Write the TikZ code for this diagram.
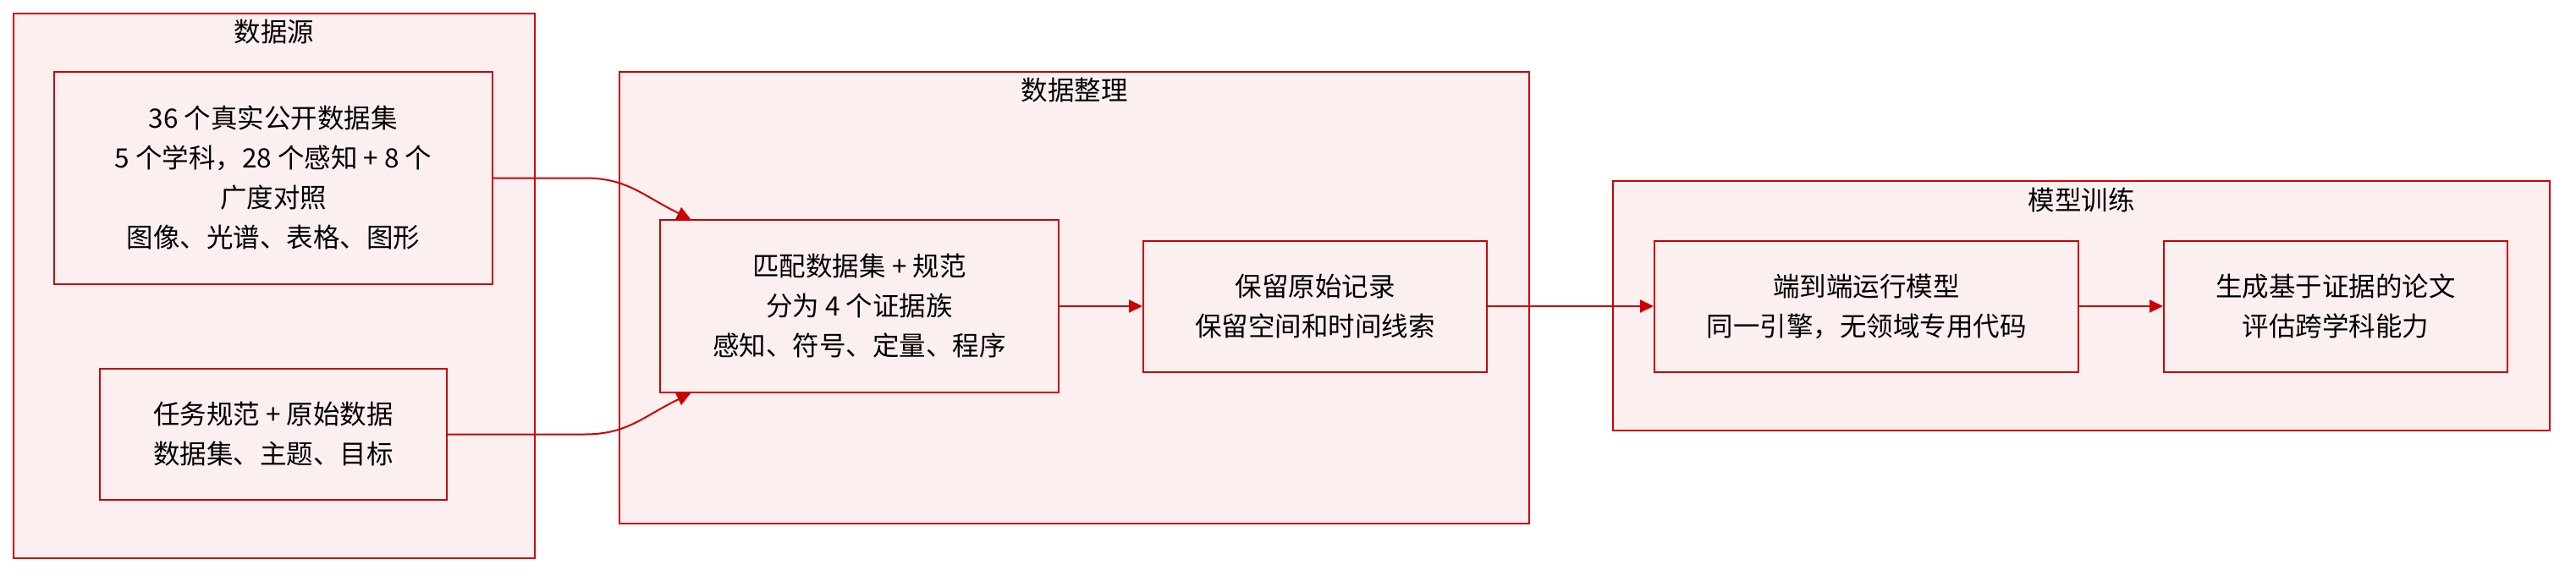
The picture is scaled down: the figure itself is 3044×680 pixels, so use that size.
\documentclass[tikz,border=0pt]{standalone}
\usepackage{fontspec}
\setmainfont{Noto Sans CJK SC}
\usepackage{tikz}
\usetikzlibrary{arrows.meta}
\definecolor{edgered}{RGB}{204,0,0}
\definecolor{boxpink}{RGB}{252,239,240}
\newcommand{\boxfont}[0]{\fontsize{15.75}{23.5}\selectfont}
\newcommand{\srcul}[0]{(15.5, 15.5)}
\newcommand{\srclr}[0]{(632, 660)}
\newcommand{\prepul}[0]{(732, 85)}
\newcommand{\preplr}[0]{(1807, 619)}
\newcommand{\trainul}[0]{(1906, 214)}
\newcommand{\trainlr}[0]{(3013, 509)}
\tikzset{
  cluster/.style={draw=edgered, fill=boxpink, line width=1pt},
  grouptitle/.style={font=\boxfont, inner sep=0pt},
  proc/.style={draw=edgered, fill=boxpink, line width=1pt, align=center,
    inner sep=0pt, font=\boxfont, minimum height=77.5pt},
  flow/.style={draw=edgered, line width=1pt, -{Triangle[length=8pt, width=7.5pt]}}
}

\begin{document}
\begin{tikzpicture}[x=0.5pt, y=-0.5pt]
\useasboundingbox (0, 0) rectangle (3044, 680);
% groups
\filldraw [cluster] \srcul{} rectangle \srclr{};
\filldraw [cluster] \prepul{} rectangle \preplr{};
\filldraw [cluster] \trainul{} rectangle \trainlr{};
\node [grouptitle] (srctitle) at (324, 37.5) {数据源};
\node [grouptitle] (preptitle) at (1269.5, 107) {数据整理};
\node [grouptitle] (traintitle) at (2459.5, 236) {模型训练};
% steps
\node [proc, minimum width=259pt, minimum height=125.5pt] (sets) at (323, 210.5)
  {36 个真实公开数据集\\5 个学科，28 个感知 + 8 个\\广度对照\\图像、光谱、表格、图形};
\node [proc, minimum width=205pt] (task) at (323, 513.5) {任务规范 + 原始数据\\数据集、主题、目标};
\node [proc, minimum width=235.5pt, minimum height=102pt] (match) at (1015.5, 362)
  {匹配数据集 + 规范\\分为 4 个证据族\\感知、符号、定量、程序};
\node [proc, minimum width=203pt] (keep) at (1554, 362) {保留原始记录\\保留空间和时间线索};
\node [proc, minimum width=250.5pt] (run) at (2205.5, 362) {端到端运行模型\\同一引擎，无领域专用代码};
\node [proc, minimum width=203pt] (paper) at (2760, 362) {生成基于证据的论文\\评估跨学科能力};
\coordinate (tipa) at ([xshift=18.5pt]match.north west);
\coordinate (tipb) at ([xshift=18.5pt]match.south west);
% links
\draw [flow] (sets.east) -- ++(108, 0) .. controls +(50, 0) and +(-57, -28) .. (tipa);
\draw [flow] (task.east) -- ++(162, 0) .. controls +(50, 0) and +(-57, 28) .. (tipb);
\draw [flow] (match) -- (keep);
\draw [flow] (keep) -- (run);
\draw [flow] (run) -- (paper);
\end{tikzpicture}
\end{document}
